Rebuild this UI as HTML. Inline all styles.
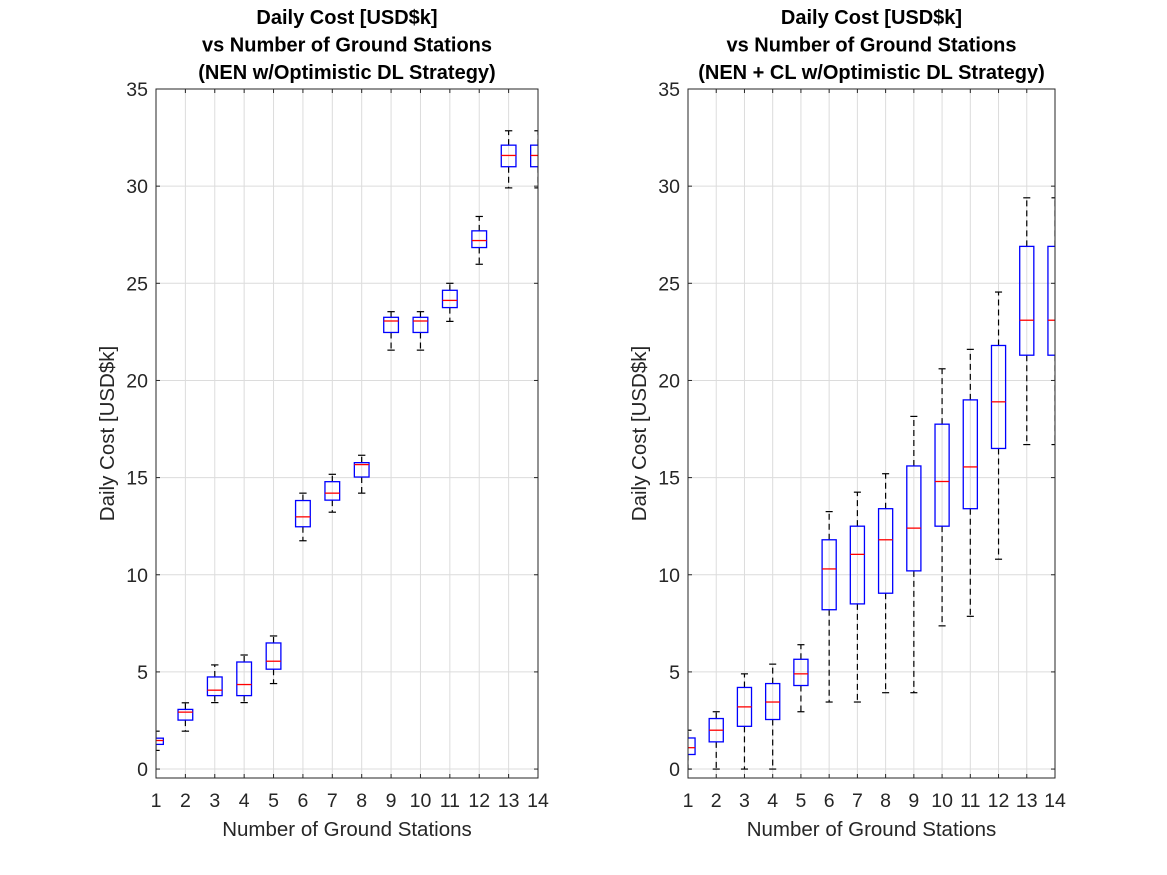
<!DOCTYPE html>
<html><head><meta charset="utf-8"><style>
body{margin:0;background:#fff;}
svg{display:block;font-family:"Liberation Sans",sans-serif;}
</style></head><body>
<svg id="chart" width="1167" height="875" xmlns="http://www.w3.org/2000/svg"></svg>
<script>
const categories=[1,2,3,4,5,6,7,8,9,10,11,12,13,14];
const yTicks=[0,5,10,15,20,25,30,35];
// Left: NEN
const nenLo=[0.96,1.95,3.42,3.42,4.4,11.75,13.22,14.2,21.56,21.56,23.04,25.98,29.91,29.91];
const nenQ1=[1.27,2.52,3.78,3.78,5.14,12.47,13.84,15.03,22.47,22.47,23.75,26.84,31.0,31.0];
const nenMed=[1.47,2.93,4.06,4.35,5.55,12.98,14.2,15.67,23.06,23.06,24.12,27.2,31.58,31.58];
const nenQ3=[1.59,3.07,4.74,5.51,6.49,13.82,14.79,15.77,23.25,23.25,24.64,27.7,32.11,32.11];
const nenHi=[1.95,3.41,5.36,5.87,6.85,14.2,15.17,16.15,23.54,23.54,25.0,28.44,32.85,32.85];
// Right: NEN + CL
const clLo=[0,0,0,0,2.95,3.45,3.45,3.93,3.93,7.37,7.86,10.8,16.7,16.7];
const clQ1=[0.75,1.4,2.2,2.55,4.3,8.2,8.5,9.05,10.2,12.5,13.4,16.5,21.3,21.3];
const clMed=[1.1,2.0,3.2,3.45,4.9,10.3,11.05,11.8,12.4,14.8,15.55,18.9,23.1,23.1];
const clQ3=[1.6,2.6,4.2,4.4,5.65,11.8,12.5,13.4,15.6,17.75,19.0,21.8,26.9,26.9];
const clHi=[2.0,2.95,4.9,5.4,6.4,13.25,14.25,15.2,18.15,20.6,21.6,24.55,29.4,29.4];

const NS="http://www.w3.org/2000/svg";
const svg=document.getElementById('chart');
function mk(tag,attrs,parent){const e=document.createElementNS(NS,tag);for(const k in attrs)e.setAttribute(k,attrs[k]);(parent||svg).appendChild(e);return e;}

function panel(id,L,R,T,B,titleLines,lo,q1,med,q3,hi){
  const g=mk('g',{});
  
  
  const yMin=-0.46,yMax=35;
  const X=v=>L+(v-1)/(13)*(R-L);
  const Y=v=>B-(v-yMin)/(yMax-yMin)*(B-T);
  const clipId=id+'-clip';
  const cp=mk('clipPath',{id:clipId},g);mk('rect',{x:L,y:T,width:R-L,height:B-T},cp);
  categories.forEach(c=>{const l=mk('line',{x1:X(c),x2:X(c),y1:T,y2:B,stroke:'#dcdcdc','stroke-width':1},g);});
  yTicks.forEach(t=>{const l=mk('line',{x1:L,x2:R,y1:Y(t),y2:Y(t),stroke:'#dcdcdc','stroke-width':1},g);});
  const bg=mk('g',{'clip-path':'url(#'+clipId+')'},g);
  const pw=(R-L)/13, bw=pw*0.25, cw=pw*0.125;
  categories.forEach((c,i)=>{
    const b=mk('g',{},bg);
    
    
    const x=X(c);
    mk('line',{x1:x,x2:x,y1:Y(q3[i]),y2:Y(hi[i]),stroke:'#000','stroke-width':1.2,'stroke-dasharray':'6,4'},b);
    mk('line',{x1:x,x2:x,y1:Y(q1[i]),y2:Y(lo[i]),stroke:'#000','stroke-width':1.2,'stroke-dasharray':'6,4'},b);
    mk('line',{x1:x-cw,x2:x+cw,y1:Y(hi[i]),y2:Y(hi[i]),stroke:'#000','stroke-width':1.2},b);
    mk('line',{x1:x-cw,x2:x+cw,y1:Y(lo[i]),y2:Y(lo[i]),stroke:'#000','stroke-width':1.2},b);
    mk('rect',{x:x-bw,y:Y(q3[i]),width:2*bw,height:Y(q1[i])-Y(q3[i]),fill:'none',stroke:'#0000ff','stroke-width':1.3},b);
    mk('line',{x1:x-bw,x2:x+bw,y1:Y(med[i]),y2:Y(med[i]),stroke:'#ff0000','stroke-width':1.3},b);
  });
  const fr=mk('rect',{x:L,y:T,width:R-L,height:B-T,fill:'none',stroke:'#262626','stroke-width':1},g);
  
  categories.forEach(c=>{
    mk('line',{x1:X(c),x2:X(c),y1:B,y2:B-4,stroke:'#262626'},g);
    mk('line',{x1:X(c),x2:X(c),y1:T,y2:T+4,stroke:'#262626'},g);
    const t=mk('text',{x:X(c),y:B+29,'text-anchor':'middle','font-size':19.5,fill:'#262626'},g);t.textContent=c;
    
  });
  yTicks.forEach(v=>{
    mk('line',{x1:L,x2:L+4,y1:Y(v),y2:Y(v),stroke:'#262626'},g);
    mk('line',{x1:R,x2:R-4,y1:Y(v),y2:Y(v),stroke:'#262626'},g);
    const t=mk('text',{x:L-8,y:Y(v)+7,'text-anchor':'end','font-size':19.5,fill:'#262626'},g);t.textContent=v;
    
  });
  const xl=mk('text',{x:(L+R)/2,y:B+58,'text-anchor':'middle','font-size':20.5,fill:'#262626'},g);xl.textContent='Number of Ground Stations';
  
  const yl=mk('text',{x:0,y:0,'text-anchor':'middle','font-size':20.5,fill:'#262626',transform:'translate('+(L-42)+','+((T+B)/2)+') rotate(-90)'},g);yl.textContent='Daily Cost [USD$k]';
  
  titleLines.forEach((s,k)=>{const t=mk('text',{x:(L+R)/2,y:24+k*27.5,'text-anchor':'middle','font-size':20,'font-weight':'bold',fill:'#000'},g);t.textContent=s;
    });
}
panel('nen',156,538,89,778,['Daily Cost [USD$k]','vs Number of Ground Stations','(NEN w/Optimistic DL Strategy)'],nenLo,nenQ1,nenMed,nenQ3,nenHi);
panel('nen-cl',688,1055,89,778,['Daily Cost [USD$k]','vs Number of Ground Stations','(NEN + CL w/Optimistic DL Strategy)'],clLo,clQ1,clMed,clQ3,clHi);
</script>
</body></html>
